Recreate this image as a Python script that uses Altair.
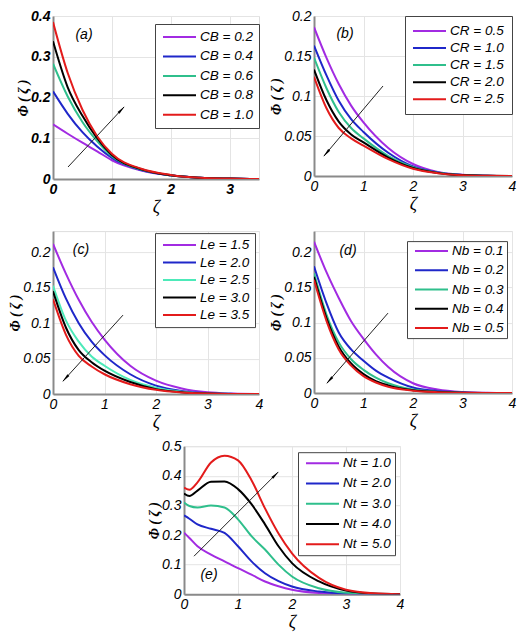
import math
import altair as alt
import pandas as pd

# ---------------- data ----------------
xa = [0, 0.25, 0.5, 0.75, 1.0, 1.5, 2.0, 2.5, 3.0, 3.5]
a_labels = ["CB = 0.2", "CB = 0.4", "CB = 0.6", "CB = 0.8", "CB = 1.0"]
a_cb02 = [0.134, 0.111, 0.089, 0.068, 0.046, 0.021, 0.009, 0.003, 0.001, 0.0]
a_cb04 = [0.215, 0.160, 0.115, 0.080, 0.052, 0.022, 0.009, 0.003, 0.001, 0.0]
a_cb06 = [0.283, 0.2025, 0.140, 0.093, 0.056, 0.023, 0.009, 0.003, 0.001, 0.0]
a_cb08 = [0.338, 0.225, 0.155, 0.100, 0.059, 0.024, 0.009, 0.003, 0.001, 0.0]
a_cb10 = [0.385, 0.260, 0.170, 0.105, 0.062, 0.025, 0.010, 0.003, 0.001, 0.0]

xb = [0, 0.25, 0.5, 0.75, 1.0, 1.5, 2.0, 2.5, 3.0, 3.5, 4.0]
b_labels = ["CR = 0.5", "CR = 1.0", "CR = 1.5", "CR = 2.0", "CR = 2.5"]
b_cr05 = [0.186, 0.148, 0.115, 0.088, 0.067, 0.035, 0.015, 0.005, 0.0015, 0.0004, 0.0]
b_cr10 = [0.163, 0.126, 0.094, 0.071, 0.055, 0.029, 0.012, 0.0045, 0.0013, 0.0003, 0.0]
b_cr15 = [0.148, 0.110, 0.080, 0.060, 0.047, 0.025, 0.011, 0.004, 0.0012, 0.0003, 0.0]
b_cr20 = [0.133, 0.095, 0.068, 0.052, 0.042, 0.023, 0.010, 0.0038, 0.0011, 0.0003, 0.0]
b_cr25 = [0.124, 0.085, 0.060, 0.047, 0.038, 0.021, 0.009, 0.0035, 0.001, 0.0003, 0.0]

xc = [0, 0.25, 0.5, 0.75, 1.0, 1.5, 2.0, 2.5, 3.0, 3.5, 4.0]
c_labels = ["Le = 1.5", "Le = 2.0", "Le = 2.5", "Le = 3.0", "Le = 3.5"]
c_le15 = [0.212, 0.170, 0.133, 0.102, 0.077, 0.040, 0.019, 0.008, 0.0025, 0.0007, 0.0]
c_le20 = [0.179, 0.135, 0.100, 0.074, 0.055, 0.028, 0.012, 0.0045, 0.0013, 0.0003, 0.0]
c_le25 = [0.153, 0.104, 0.074, 0.053, 0.040, 0.020, 0.009, 0.0033, 0.001, 0.0003, 0.0]
c_le30 = [0.145, 0.094, 0.062, 0.045, 0.033, 0.017, 0.007, 0.0027, 0.0008, 0.0002, 0.0]
c_le35 = [0.134, 0.084, 0.054, 0.039, 0.028, 0.014, 0.006, 0.0022, 0.0007, 0.0002, 0.0]

xd = [0, 0.25, 0.5, 0.75, 1.0, 1.25, 1.5, 2.0, 2.5, 3.0, 3.5, 4.0]
d_labels = ["Nb = 0.1", "Nb = 0.2", "Nb = 0.3", "Nb = 0.4", "Nb = 0.5"]
d_nb01 = [0.215, 0.172, 0.135, 0.102, 0.077, 0.055, 0.037, 0.014, 0.005, 0.0015, 0.0004, 0.0]
d_nb02 = [0.180, 0.128, 0.086, 0.062, 0.046, 0.032, 0.022, 0.008, 0.003, 0.0009, 0.0002, 0.0]
d_nb03 = [0.170, 0.112, 0.072, 0.048, 0.033, 0.022, 0.014, 0.005, 0.002, 0.0006, 0.0002, 0.0]
d_nb04 = [0.165, 0.107, 0.066, 0.042, 0.027, 0.017, 0.011, 0.004, 0.0015, 0.0005, 0.0001, 0.0]
d_nb05 = [0.161, 0.103, 0.062, 0.039, 0.024, 0.015, 0.009, 0.0035, 0.0013, 0.0004, 0.0001, 0.0]

xe = [0, 0.1, 0.25, 0.5, 0.75, 1.0, 1.25, 1.5, 1.75, 2.0, 2.5, 3.0, 3.5, 4.0]
e_labels = ["Nt = 1.0", "Nt = 2.0", "Nt = 3.0", "Nt = 4.0", "Nt = 5.0"]
e_nt1 = [0.208, 0.190, 0.162, 0.134, 0.111, 0.088, 0.066, 0.043, 0.027, 0.015, 0.004, 0.001, 0.0, 0.0]
e_nt2 = [0.266, 0.255, 0.236, 0.221, 0.207, 0.162, 0.111, 0.071, 0.044, 0.026, 0.009, 0.002, 0.0005, 0.0]
e_nt3 = [0.310, 0.298, 0.293, 0.300, 0.293, 0.253, 0.196, 0.151, 0.100, 0.060, 0.020, 0.005, 0.001, 0.0]
e_nt4 = [0.340, 0.332, 0.350, 0.380, 0.381, 0.355, 0.304, 0.236, 0.162, 0.105, 0.043, 0.012, 0.002, 0.0]
e_nt5 = [0.360, 0.353, 0.378, 0.445, 0.468, 0.452, 0.385, 0.290, 0.205, 0.138, 0.055, 0.015, 0.003, 0.0]

# ---------------- styling ----------------
FONT = "Liberation Sans"
SERIF = "Liberation Serif"
COLORS = ["#a22be2", "#1f27c9", "#2fbf8c", "#000000", "#e31b1b"]
COLORS_C = ["#a22be2", "#1f27c9", "#4deab9", "#000000", "#e31b1b"]
SYM_SIZE = 144      # legend symbol "size" (keeps rows compact)
SYM_LEN = 33        # visible length of legend line
LAB_FS = 13.5


def legend_for(legx, legy, pad, row_step, line_start):
    entry = max(math.ceil(math.sqrt(SYM_SIZE) + 2), LAB_FS)
    r = math.sqrt(SYM_SIZE) / 2
    c = entry / 2
    a = (c - line_start) / r
    b = (line_start + SYM_LEN - c) / r
    path = "M%.3f,0H%.3f" % (-a, b)
    return alt.Legend(title=None, orient="none", legendX=legx, legendY=legy,
                      direction="vertical", symbolType=path,
                      symbolSize=SYM_SIZE, symbolStrokeWidth=2,
                      labelFont=FONT, labelFontSize=LAB_FS,
                      labelFontStyle="italic", labelColor="#000",
                      fillColor="white", strokeColor="#444",
                      padding=pad, rowPadding=max(0, row_step - entry / 2 - LAB_FS / 2),
                      labelOffset=line_start + SYM_LEN + 4 - entry)


def panel(xs, series, labels, colors, xmax, ymax, xticks, yticks, w, h,
          leg, letter, arrow, bold):
    rows = []
    for lab, vals in zip(labels, series):
        for xv, yv in zip(xs, vals):
            rows.append({"x": xv, "y": yv, "s": lab})
    df = pd.DataFrame(rows)
    lw = "bold" if bold else "normal"
    common = dict(labelFont=FONT, labelFontSize=14, labelFontStyle="italic",
                  labelFontWeight=lw, labelColor="#000", ticks=False,
                  domainColor="#8a8a8a", domainWidth=2, gridColor="#e4e4e4",
                  labelFlush=False, labelOverlap=False, format="~g")
    xax = alt.Axis(values=xticks, title="ζ", titleFont=SERIF, titleFontSize=18,
                   titleFontStyle="italic", titleFontWeight="normal",
                   titleColor="#000", titlePadding=2, labelPadding=3, **common)
    yax = alt.Axis(values=yticks, title="Φ ( ζ )", titleFont=SERIF,
                   titleFontSize=14, titleFontStyle="italic",
                   titleFontWeight="bold", titleColor="#000", titlePadding=0,
                   labelPadding=3, **common)
    lines = alt.Chart(df).mark_line(strokeWidth=2, interpolate="monotone", clip=True).encode(
        x=alt.X("x:Q", scale=alt.Scale(domain=[0, xmax], nice=False, zero=False), axis=xax),
        y=alt.Y("y:Q", scale=alt.Scale(domain=[0, ymax], nice=False, zero=False), axis=yax),
        color=alt.Color("s:N", scale=alt.Scale(domain=labels, range=colors),
                        legend=legend_for(*leg)),
    )
    one = pd.DataFrame({"k": [0]})
    ltxt, lx, ly = letter
    lettermark = alt.Chart(one).mark_text(font=FONT, fontSize=14, fontStyle="italic",
                                          color="#000").encode(
        x=alt.value(lx), y=alt.value(ly), text=alt.value(ltxt))
    x1, y1, x2, y2 = arrow
    rule = alt.Chart(one).mark_rule(color="#222", strokeWidth=1).encode(
        x=alt.value(x1), y=alt.value(y1), x2=alt.value(x2), y2=alt.value(y2))
    dx, dy = x2 - x1, y2 - y1
    ln = math.hypot(dx, dy)
    ang = math.degrees(math.atan2(dx, -dy)) % 360
    hx, hy = x2 - dx / ln * 5, y2 - dy / ln * 5
    head = alt.Chart(one).mark_point(shape="wedge", filled=True, size=110, color="#000",
                                     opacity=1, angle=ang).encode(
        x=alt.value(hx), y=alt.value(hy))
    return alt.layer(lines, rule, head, lettermark).properties(width=w, height=h)


# legend tuple: (legendX, legendY, padding, row step, line start)
pa = panel(xa, [a_cb02, a_cb04, a_cb06, a_cb08, a_cb10], a_labels, COLORS,
           3.5, 0.4, [0, 1, 2, 3], [0, 0.1, 0.2, 0.3, 0.4], 206, 163,
           (102, 8, 6, 19.2, 2), ("(a)", 31, 19), (15, 151, 71, 91), True)
pb = panel(xb, [b_cr05, b_cr10, b_cr15, b_cr20, b_cr25], b_labels, COLORS,
           4, 0.2, [0, 1, 2, 3, 4], [0, 0.05, 0.1, 0.15, 0.2], 198, 160,
           (91, 0, 8, 16.8, 0), ("(b)", 31, 18), (69, 70, 10, 140), False)
pc = panel(xc, [c_le15, c_le20, c_le25, c_le30, c_le35], c_labels, COLORS_C,
           4, 0.23, [0, 1, 2, 3, 4], [0, 0.05, 0.1, 0.15, 0.2], 206, 163,
           (102, 2, 5, 17.25, 3), ("(c)", 28, 19), (70, 84, 10, 150), False)
pd_ = panel(xd, [d_nb01, d_nb02, d_nb03, d_nb04, d_nb05], d_labels, COLORS,
            4, 0.23, [0, 1, 2, 3, 4], [0, 0.05, 0.1, 0.15, 0.2], 198, 162,
            (93, 10, 3, 19.0, 5), ("(d)", 34, 20), (74, 82, 13, 152), False)
pe = panel(xe, [e_nt1, e_nt2, e_nt3, e_nt4, e_nt5], e_labels, COLORS,
           4, 0.5, [0, 1, 2, 3, 4], [0, 0.1, 0.2, 0.3, 0.4, 0.5], 216, 148,
           (114, 6, 4, 20.0, 4), ("(e)", 25, 129), (10, 110, 94, 26), False)

spacer = alt.Chart(pd.DataFrame({"v": [0]})).mark_point(opacity=0).encode(
    x=alt.X("v:Q", axis=None), y=alt.Y("v:Q", axis=None)
).properties(width=131, height=148, view=alt.ViewBackground(strokeOpacity=0))


def indep(c):
    return c.resolve_scale(x="independent", y="independent", color="independent"
                           ).resolve_legend(color="independent")


row1 = indep(alt.hconcat(pa, pb, spacing=55, bounds="flush"))
row2 = indep(alt.hconcat(pc, pd_, spacing=55, bounds="flush"))
row3 = indep(alt.hconcat(spacer, pe, spacing=0, bounds="flush"))
top = indep(alt.vconcat(row1, row2, spacing=13.1))
chart = indep(alt.vconcat(top, row3, spacing=6.2)).properties(
    padding={"left": 0, "top": 0, "right": 0, "bottom": 0}
).configure_view(stroke="#6a6a6a", strokeWidth=1.2).configure(background="white")

chart.save("out.html", embed_options={"renderer": "svg", "actions": False})
